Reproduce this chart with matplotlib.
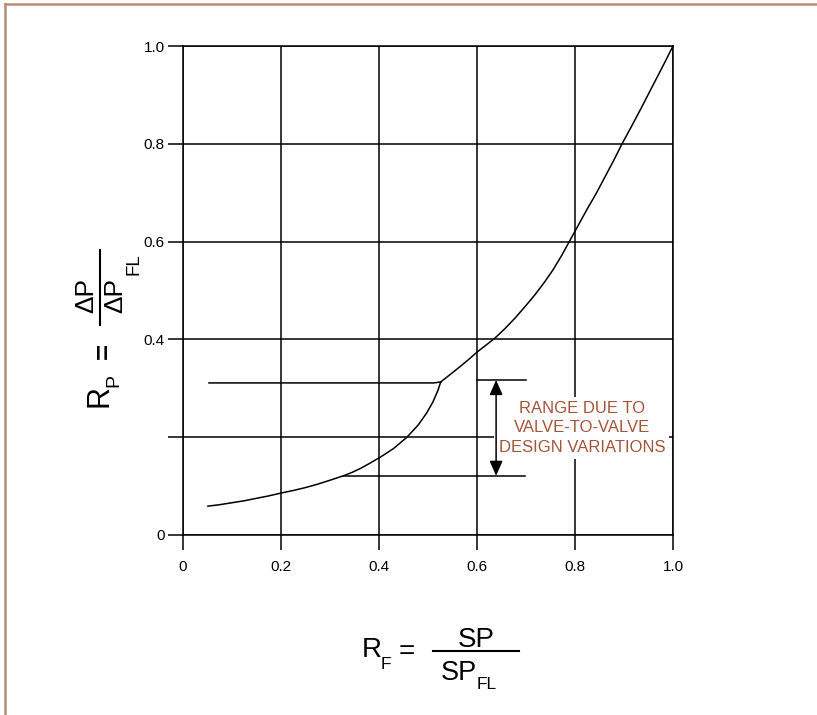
import matplotlib.pyplot as plt
from matplotlib.lines import Line2D

plt.rcParams['font.family'] = ['Liberation Sans', 'DejaVu Sans']

W, H = 817, 715

# grid / tick positions
x_ticks = [0, 0.2, 0.4, 0.6, 0.8, 1.0]
x_labels = ['0', '0.2', '0.4', '0.6', '0.8', '1.0']
y_ticks = [0, 0.2, 0.4, 0.6, 0.8, 1.0]
y_labels = ['0', '', '0.4', '0.6', '0.8', '1.0']

# lower branch of the curve (up to the knee)
low_x = [0.051, 0.075, 0.10, 0.125, 0.15, 0.175, 0.201, 0.225, 0.25, 0.275,
         0.30, 0.327, 0.345, 0.36, 0.38, 0.404, 0.43, 0.457, 0.48, 0.497,
         0.51, 0.52, 0.526]
low_y = [0.059, 0.062, 0.066, 0.070, 0.075, 0.080, 0.086, 0.091, 0.097, 0.104,
         0.112, 0.121, 0.128, 0.135, 0.146, 0.160, 0.177, 0.200, 0.225, 0.249,
         0.272, 0.295, 0.313]

# upper branch from the knee up to (1, 1)
up_x = [0.526, 0.545, 0.565, 0.583, 0.600, 0.618, 0.637, 0.657, 0.678, 0.698,
        0.718, 0.737, 0.755, 0.773, 0.790, 0.807, 0.824, 0.843, 0.861, 0.879,
        0.896, 0.915, 0.933, 0.950, 0.967, 0.984, 1.0]
up_y = [0.313, 0.328, 0.344, 0.359, 0.374, 0.388, 0.403, 0.422, 0.444, 0.467,
        0.491, 0.516, 0.542, 0.572, 0.603, 0.634, 0.665, 0.698, 0.732, 0.766,
        0.800, 0.835, 0.869, 0.902, 0.935, 0.968, 1.0]

# range marker lines
range_top = 0.311
range_top_x = [0.053, 0.512]
range_top_right = 0.317
range_top_right_x = [0.60, 0.70]
range_bottom = 0.121
range_bottom_x = [0.327, 0.698]
arrow_x = 0.639


def fpos(px, py):
    # pixel position (from top-left) -> figure fraction
    return px / W, 1 - py / H


fig = plt.figure(figsize=(W / 100, H / 100), dpi=100)
ax = fig.add_axes([183 / W, 180 / H, 490 / W, 489 / H])
ax.set_xlim(0, 1)
ax.set_ylim(0, 1)

for s in ax.spines.values():
    s.set_linewidth(1.1)
ax.set_xticks(x_ticks)
ax.set_xticklabels(x_labels)
ax.set_yticks(y_ticks)
ax.set_yticklabels(y_labels)
ax.tick_params(direction='out', length=11, width=1.1, labelsize=11)
ax.tick_params(axis='x', pad=7)
ax.tick_params(axis='y', pad=2)
ax.grid(True, color='black', linewidth=1.1)
ax.set_axisbelow(True)

lw = 1.1
ax.plot(low_x, low_y, color='black', lw=lw, clip_on=False, zorder=3)
ax.plot(up_x, up_y, color='black', lw=lw, clip_on=False, zorder=3)
ax.plot(range_top_x + [low_x[-1]], [range_top, range_top, low_y[-1]],
        color='black', lw=lw, zorder=3)
ax.plot(range_top_right_x, [range_top_right] * 2, color='black', lw=lw, zorder=3)
ax.plot(range_bottom_x, [range_bottom] * 2, color='black', lw=lw, zorder=3)

ax.annotate('', xy=(arrow_x, range_top_right), xytext=(arrow_x, range_bottom),
            arrowprops=dict(arrowstyle='<|-|>,head_length=0.5,head_width=0.22',
                            color='black', lw=1.1, mutation_scale=18,
                            shrinkA=0, shrinkB=0), zorder=4)

# label sits on a white patch that hides the grid behind it
ax.text(0.814, 0.219, 'RANGE DUE TO\nVALVE-TO-VALVE\nDESIGN VARIATIONS',
        ha='center', va='center', fontsize=12, color='#a3553a', linespacing=1.35,
        bbox=dict(facecolor='white', edgecolor='none', pad=3), zorder=2)

# y label:  R_P = dP / dP_FL  (rotated, built piece by piece)
yl = dict(rotation=90, rotation_mode='anchor', ha='left', va='baseline')
fig.text(*fpos(108, 407), 'R', fontsize=22, **yl)
fig.text(*fpos(118, 387), 'P', fontsize=14, **yl)
fig.text(*fpos(105, 351), '=', fontsize=20, fontweight='bold', rotation=90,
         rotation_mode='anchor', ha='center', va='center')
fig.text(*fpos(93, 313), '\u0394P', fontsize=19, **yl)
fig.text(*fpos(122, 313), '\u0394P', fontsize=19, **yl)
fig.text(*fpos(138, 275), 'FL', fontsize=13.5, **yl)
fig.add_artist(Line2D([99.5 / W] * 2, [1 - 250 / H, 1 - 325 / H],
                      transform=fig.transFigure, color='black', lw=1.5))

# x label:  R_F = SP / SP_FL
xl = dict(ha='left', va='baseline')
fig.text(*fpos(362, 657), 'R', fontsize=20, **xl)
fig.text(*fpos(381, 669), 'F', fontsize=12.5, **xl)
fig.text(*fpos(399, 659), '=', fontsize=20, **xl)
fig.text(*fpos(476, 647), 'SP', fontsize=20, ha='center', va='baseline')
fig.text(*fpos(441, 680), 'SP', fontsize=19.5, **xl)
fig.text(*fpos(477, 689), 'FL', fontsize=12.5, **xl)
fig.add_artist(Line2D([433 / W, 519 / W], [1 - 651 / H] * 2,
                      transform=fig.transFigure, color='black', lw=1.5))

# page border along the top and left edges
border = '#b98a74'
fig.add_artist(Line2D([5 / W, 1], [1 - 4 / H] * 2, transform=fig.transFigure,
                      color=border, lw=1.8))
fig.add_artist(Line2D([5 / W] * 2, [0, 1 - 4 / H], transform=fig.transFigure,
                      color=border, lw=1.8))

fig.savefig('out.png', dpi=100)
